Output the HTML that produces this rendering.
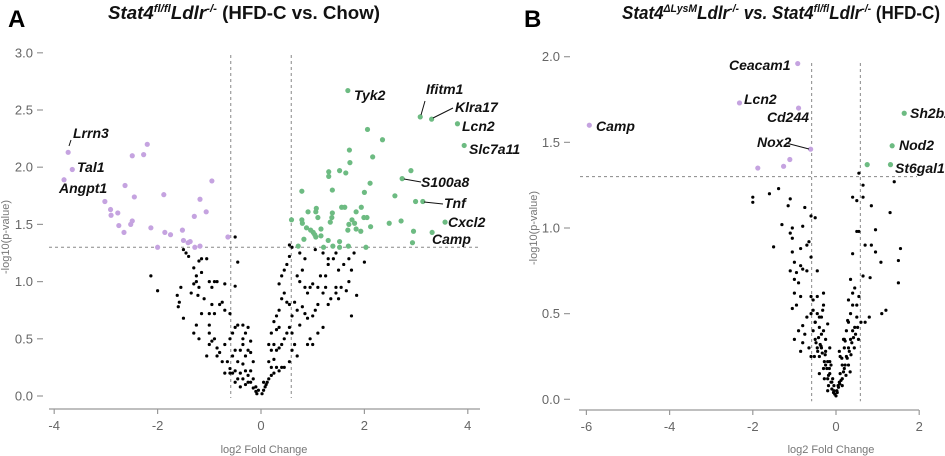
<!DOCTYPE html>
<html><head><meta charset="utf-8"><style>
html,body{margin:0;padding:0;background:#fff;}
svg{display:block;font-family:"Liberation Sans",sans-serif;}
.tk{font-size:13px;fill:#666;}
.ax{font-size:11px;fill:#777;}
.gl{font-size:14px;font-weight:bold;font-style:italic;fill:#111;}
.tt{font-size:18px;font-weight:bold;fill:#111;}
</style></head><body>
<svg id="fig" width="945" height="456" viewBox="0 0 945 456">
<text x="8" y="27" font-size="24" font-weight="bold">A</text>
<text class="tt" x="108" y="19" textLength="272" lengthAdjust="spacingAndGlyphs"><tspan font-style="italic">Stat4</tspan><tspan font-style="italic" font-size="11" dy="-7">fl/fl</tspan><tspan font-style="italic" dy="7">Ldlr</tspan><tspan font-style="italic" font-size="11" dy="-7">-/-</tspan><tspan dy="7"> (HFD-C vs. Chow)</tspan></text>
<text x="524" y="27" font-size="24" font-weight="bold">B</text>
<text class="tt" x="622" y="19" textLength="318" lengthAdjust="spacingAndGlyphs"><tspan font-style="italic">Stat4</tspan><tspan font-style="italic" font-size="11" dy="-7">ΔLysM</tspan><tspan font-style="italic" dy="7">Ldlr</tspan><tspan font-style="italic" font-size="11" dy="-7">-/-</tspan><tspan font-style="italic" dy="7"> vs. Stat4</tspan><tspan font-style="italic" font-size="11" dy="-7">fl/fl</tspan><tspan font-style="italic" dy="7">Ldlr</tspan><tspan font-style="italic" font-size="11" dy="-7">-/-</tspan><tspan dy="7">  (HFD-C)</tspan></text>
</svg>
<script>
// Panel A data
const aDownX=[-3.73,-3.65,-3.81,-2.2,-2.27,-2.49,-2.63,-2.45,-3.02,-2.91,-2.9,-2.77,-2.75,-2.65,-2.52,-2.49,-2.13,-1.88,-1.86,-1.75,-2.0,-1.52,-1.5,-1.41,-1.37,-1.29,-1.18,-1.06,-0.95,-1.28,-1.18,-0.64];
const aDownY=[2.13,1.98,1.89,2.2,2.11,2.10,1.84,1.74,1.70,1.63,1.58,1.60,1.49,1.43,1.50,1.53,1.47,1.76,1.43,1.41,1.30,1.45,1.36,1.34,1.35,1.57,1.72,1.61,1.88,1.30,1.31,1.39];
const aUpX=[1.68,3.08,3.30,3.80,3.93,2.73,2.99,3.13,3.56,3.31,2.95,2.93,2.9,2.59,2.48,2.71,2.35,2.06,2.16,1.71,1.72,1.52,1.64,1.31,1.31,1.38,2.11,2.0,0.79,0.91,1.07,1.06,1.1,1.38,1.37,1.34,1.56,1.62,1.76,1.84,1.94,1.99,2.05,1.81,0.59,0.79,0.8,0.88,0.96,1.01,1.06,1.16,1.16,1.04,0.83,0.72,1.21,1.3,1.39,1.52,1.52,1.69,1.7,1.93,2.12,2.03,1.68,1.84];
const aUpY=[2.67,2.44,2.42,2.38,2.19,1.90,1.70,1.70,1.52,1.43,1.44,1.34,1.97,1.75,1.51,1.53,2.24,2.33,2.09,2.15,2.04,1.97,1.95,1.96,1.92,1.80,1.86,1.78,1.79,1.61,1.64,1.61,1.56,1.60,1.56,1.52,1.65,1.65,1.54,1.61,1.65,1.56,1.56,1.51,1.54,1.54,1.51,1.47,1.45,1.43,1.39,1.46,1.40,1.41,1.37,1.31,1.30,1.36,1.31,1.35,1.30,1.31,1.50,1.44,1.48,1.30,1.45,1.46];
const aNsX=[-2.13,-2.0,-1.62,-1.55,-1.58,-1.6,-1.5,-1.45,-1.4,-1.5,-1.3,-1.2,-1.15,-1.25,-1.3,-1.35,-1.25,-1.15,-1.2,-1.22,-1.1,-1.0,-0.9,-0.85,-0.95,-0.7,-0.5,-0.45,-0.5,-1.05,-1.25,-1.3,-1.2,-1.15,-1.0,-0.95,-0.9,-0.8,-0.75,-0.7,-0.6,-1.0,-1.0,-0.95,-0.9,-0.85,-0.8,-0.75,-0.85,-1.05,-1.0,-0.7,-0.6,-0.55,-0.5,-0.45,-0.35,-0.3,-0.35,-0.4,-0.5,-0.55,-0.45,-0.35,-0.3,-0.25,-0.2,-0.15,-0.3,-0.4,-0.5,-0.55,-0.6,-0.45,-0.35,-0.25,-0.2,-0.15,-0.25,-0.1,-0.15,-0.1,-0.05,-0.08,-0.3,-0.4,-0.5,-0.6,-0.7,-0.2,-0.65,-0.35,-0.25,-0.2,
0.02,0.05,0.08,0.1,0.12,0.05,0.15,0.2,0.25,0.3,0.35,0.4,0.45,0.2,0.15,0.25,0.3,0.35,0.4,0.45,0.2,0.25,0.15,0.2,0.3,0.35,0.3,0.35,0.25,0.4,0.45,0.5,0.55,0.6,0.55,0.5,0.6,0.65,0.7,0.6,0.55,0.75,0.7,0.65,0.8,0.85,0.9,1.0,1.05,1.1,0.95,1.0,0.9,1.2,0.75,0.7,0.8,0.85,0.75,0.55,0.5,0.4,0.35,0.45,0.9,1.0,1.1,1.15,1.25,1.3,1.2,1.25,1.4,1.5,1.6,1.5,1.45,1.45,1.55,1.65,1.7,1.75,1.85,1.8,1.7,1.75,2.0,1.35,1.45,1.3,1.1,0.95,0.85,0.6,0.55,1.05,1.2,1.3];
const aNsY=[1.05,0.92,0.88,0.95,0.82,0.78,0.68,1.25,1.22,1.28,1.12,1.18,1.2,1.0,0.98,0.9,1.05,1.08,0.95,0.88,0.85,1.0,1.0,1.0,0.95,0.98,0.96,1.17,1.39,1.2,0.62,0.55,0.5,0.72,0.72,0.8,0.72,0.8,0.82,0.75,0.72,0.62,0.55,0.48,0.5,0.42,0.38,0.3,0.35,0.35,0.45,0.45,0.5,0.55,0.6,0.62,0.62,0.55,0.45,0.4,0.4,0.35,0.3,0.28,0.35,0.4,0.38,0.3,0.22,0.2,0.22,0.2,0.2,0.15,0.15,0.18,0.12,0.15,0.12,0.08,0.07,0.04,0.05,0.02,0.1,0.08,0.12,0.24,0.2,0.22,0.3,0.5,0.6,0.48,
0.02,0.05,0.08,0.1,0.12,0.12,0.15,0.18,0.2,0.25,0.22,0.25,0.25,0.25,0.3,0.32,0.4,0.42,0.45,0.5,0.4,0.45,0.45,0.55,0.58,0.6,0.7,0.75,0.65,0.85,0.9,0.82,0.8,0.7,0.6,0.55,0.55,0.45,0.35,0.4,0.3,0.62,0.75,0.82,0.78,0.72,0.68,0.7,0.75,0.55,0.5,0.45,0.45,0.6,1.0,1.05,1.1,1.2,1.25,1.22,1.15,1.05,0.98,1.1,0.9,0.98,0.95,1.05,1.05,1.15,0.9,0.95,1.2,1.1,1.15,0.85,0.95,1.25,0.95,0.92,1.0,0.7,0.88,1.25,1.2,1.1,1.17,0.85,0.9,0.8,0.8,0.95,0.95,1.3,1.32,1.28,1.25,1.2];
const aXTicks=[-4,-2,0,2,4];
const aXLabels=["-4","-2","0","2","4"];
const aYTicks=[0,0.5,1,1.5,2,2.5,3];
const aYLabels=["0.0","0.5","1.0","1.5","2.0","2.5","3.0"];
// Panel B data
const bDownX=[-0.92,-2.32,-0.9,-5.93,-0.61,-1.11,-1.26,-1.88];
const bDownY=[1.96,1.73,1.70,1.60,1.46,1.40,1.36,1.35];
const bUpX=[1.64,1.35,1.31,0.75];
const bUpY=[1.67,1.48,1.37,1.37];
const bNsX=[-2.0,-2.0,-1.6,-1.38,-1.1,-1.15,-0.75,-1.3,-1.05,-0.8,-0.6,-0.5,-1.5,-1.1,-1.05,-1.05,-0.85,-0.7,-0.65,-0.6,-1.0,-0.85,-1.1,-0.95,-0.8,-0.7,-0.45,-1.0,-0.9,-0.85,-1.0,-0.95,-1.05,-0.6,-0.55,-0.45,-0.3,-0.3,-0.35,-0.45,-0.6,-0.7,-0.8,-0.9,-0.75,-1.0,-0.8,-0.65,-0.55,-0.5,-0.4,-0.3,-0.25,-0.35,-0.25,-0.4,-0.6,-0.85,-0.15,-0.2,-0.3,-0.4,-0.2,-0.15,-0.1,-0.05,-0.05,-0.08,-0.12,-0.2,0.0,0.02,0.05,0.08,0.1,0.15,0.15,0.2,0.25,0.3,0.2,0.35,0.4,0.45,0.5,0.25,0.3,0.35,0.4,0.5,0.55,0.3,0.4,0.45,0.35,0.6,0.7,0.8,1.1,1.2,0.65,0.82,0.4,0.5,0.55,0.7,0.85,0.95,0.95,1.08,1.3,1.5,1.55,1.5,0.4,0.5,0.65,0.65,0.85,1.4,0.55,-0.5,-0.35,-0.45,-0.25,-0.15,0.1,0.2,0.3,0.15,
-0.55,-0.5,-0.48,-0.42,-0.38,-0.33,-0.28,-0.22,-0.18,-0.12,-0.1,-0.06,-0.03,0.03,0.06,0.09,0.12,0.18,0.22,0.27,0.32,0.38,0.42,0.47,0.52,-0.52,-0.44,-0.36,-0.26,-0.16,0.14,0.24,0.34,0.44,0.54,-0.4,-0.32,-0.2,0.22,0.36,-0.28,-0.18,0.08,0.18,0.28];
const bNsY=[1.18,1.15,1.2,1.23,1.17,1.13,1.12,1.02,1.0,1.01,1.07,1.06,0.89,0.97,0.94,0.86,0.88,0.9,0.92,0.83,0.8,0.78,0.75,0.74,0.76,0.75,0.75,0.7,0.68,0.6,0.62,0.55,0.53,0.6,0.58,0.6,0.62,0.55,0.48,0.5,0.5,0.48,0.43,0.4,0.38,0.35,0.33,0.3,0.4,0.35,0.42,0.4,0.35,0.3,0.28,0.25,0.25,0.28,0.3,0.22,0.18,0.15,0.12,0.15,0.1,0.05,0.08,0.12,0.2,0.05,0.02,0.05,0.08,0.1,0.15,0.12,0.2,0.18,0.25,0.3,0.3,0.35,0.4,0.42,0.48,0.4,0.45,0.5,0.55,0.55,0.6,0.58,0.62,0.65,0.7,0.45,0.45,0.48,0.5,0.52,0.72,0.71,0.85,0.98,0.98,0.9,0.9,0.99,0.86,0.8,1.09,0.81,0.88,0.68,1.18,1.16,1.18,1.25,1.13,1.27,1.32,0.45,0.38,0.3,0.2,0.22,0.25,0.35,0.2,0.08,
0.52,0.45,0.33,0.36,0.32,0.27,0.22,0.18,0.14,0.1,0.06,0.04,0.03,0.04,0.07,0.09,0.11,0.16,0.2,0.24,0.28,0.33,0.36,0.38,0.42,0.25,0.28,0.31,0.26,0.18,0.24,0.14,0.16,0.3,0.35,0.48,0.52,0.44,0.34,0.26,0.12,0.08,0.28,0.35,0.46];
const bXTicks=[-6,-4,-2,0,2];
const bXLabels=["-6","-4","-2","0","2"];
const bYTicks=[0,0.5,1,1.5,2];
const bYLabels=["0.0","0.5","1.0","1.5","2.0"];

const NS="http://www.w3.org/2000/svg";
const svg=document.getElementById('fig');
function mk(tag,attrs,parent){const e=document.createElementNS(NS,tag);for(const k in attrs)e.setAttribute(k,attrs[k]);(parent||svg).appendChild(e);return e;}

function panel(p){
  const g=mk('g',{});
  
  
  const sx=v=>p.x0+v*p.kx, sy=v=>p.y0-v*p.ky;
  const xa=mk('line',{x1:p.axL,x2:p.axR,y1:p.axY,y2:p.axY,stroke:'#999','stroke-width':1.3},g);
  
  
  p.xt.forEach((t,i)=>{
    mk('line',{x1:sx(t),x2:sx(t),y1:p.axY,y2:p.axY+5,stroke:'#999','stroke-width':1.2},g);
    const tx=mk('text',{x:sx(t),y:p.axY+21,'text-anchor':'middle',class:'tk'},g);
    tx.textContent=p.xl[i];
    
    
  });
  p.yt.forEach((t,i)=>{
    mk('line',{x1:p.ytx,x2:p.ytx+6,y1:sy(t),y2:sy(t),stroke:'#999','stroke-width':1.2},g);
    const tx=mk('text',{x:p.ytx-4,y:sy(t)+4.5,'text-anchor':'end',class:'tk'},g);
    tx.textContent=p.yl[i];
    
    
  });
  const xt=mk('text',{x:p.xtitleX,y:453,'text-anchor':'middle',class:'ax'},g);
  xt.textContent='log2 Fold Change';
  
  
  const yt=mk('text',{x:0,y:0,'text-anchor':'middle',class:'ax',transform:`translate(${p.ytitleX},${p.ytitleY}) rotate(-90)`},g);
  yt.textContent='-log10(p-value)';
  
  
  const dash={stroke:'#888','stroke-width':1,'stroke-dasharray':'3,3',fill:'none'};
  const h=mk('line',Object.assign({x1:p.hL,x2:p.hR,y1:sy(1.3),y2:sy(1.3)},dash),g);
  
  
  [-0.585,0.585].forEach(v=>{
    const l=mk('line',Object.assign({x1:sx(v),x2:sx(v),y1:p.vTop,y2:sy(0)+2},dash),g);
    
    
  });
  p.nsX.forEach((v,i)=>{
    const c=mk('circle',{cx:sx(v),cy:sy(p.nsY[i]),r:1.6,fill:'#000'},g);
    
    
  });
  p.dX.forEach((v,i)=>{
    const c=mk('circle',{cx:sx(v),cy:sy(p.dY[i]),r:2.6,fill:'#c5a3e0'},g);
    
    
  });
  p.uX.forEach((v,i)=>{
    const c=mk('circle',{cx:sx(v),cy:sy(p.uY[i]),r:2.6,fill:'#6dbb82'},g);
    
    
  });
  p.labels.forEach(L=>{
    const t=mk('text',{x:L[1],y:L[2],class:'gl'},g);
    if(L[3]) t.setAttribute('font-weight','normal');
    t.textContent=L[0];
    
    
  });
  p.leaders.forEach(s=>{
    const l=mk('line',{x1:s[0],y1:s[1],x2:s[2],y2:s[3],stroke:'#111','stroke-width':1},g);
    
    
  });
}

panel({id:'panel-a',x0:261,kx:51.7,y0:396,ky:114.4,axL:49,axR:480,axY:409,ytx:37,vTop:55,hL:49,hR:480,
  xtitleX:264,ytitleX:9,ytitleY:237,
  xt:aXTicks,xl:aXLabels,yt:aYTicks,yl:aYLabels,
  nsX:aNsX,nsY:aNsY,dX:aDownX,dY:aDownY,uX:aUpX,uY:aUpY,
  labels:[['Lrrn3',73,138],['Tal1',77,172],['Angpt1',59,193],['Tyk2',354,100],['Ifitm1',426,94],['Klra17',455,112],['Lcn2',462,131],['Slc7a11',469,154],['S100a8',421,187],['Tnf',444,208],['Cxcl2',448,227],['Camp',432,244]],
  leaders:[[69,146,71,140],[421,115,425,101],[433,118,453,108],[404,179,421,182],[424,202,443,204]]});
panel({id:'panel-b',x0:836,kx:41.6,y0:399.3,ky:171.3,axL:579,axR:919,axY:410,ytx:564,vTop:63,hL:580,hR:917,
  xtitleX:831,ytitleX:537,ytitleY:228,
  xt:bXTicks,xl:bXLabels,yt:bYTicks,yl:bYLabels,
  nsX:bNsX,nsY:bNsY,dX:bDownX,dY:bDownY,uX:bUpX,uY:bUpY,
  labels:[['Ceacam1',729,70],['Lcn2',744,104],['Cd244',767,122],['Camp',596,131],['Nox2',757,147,1],['Sh2b2',910,118],['Nod2',899,150],['St6gal1',895,173]],
  leaders:[[786,143,809,149]]});
</script>
</body></html>
